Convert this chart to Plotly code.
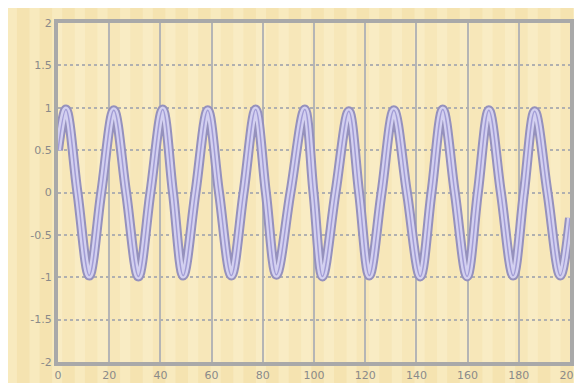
import plotly.graph_objects as go

# Values: extrema and zero crossings of the wave
x_vals = [0.0, 3.1, 7.6, 12.2, 16.9, 21.8, 26.6, 31.4, 36.1, 40.9, 44.9, 48.9, 53.7, 58.5,
          62.9, 67.7, 72.5, 77.2, 81.2, 85.3, 90.8, 96.4, 99.8, 103.3, 108.4, 113.6,
          117.6, 121.6, 126.4, 131.2, 136.3, 141.5, 145.9, 150.3, 155.0, 159.8, 164.0,
          168.3, 173.0, 177.8, 182.0, 186.2, 191.2, 196.2, 200.0]
y_vals = [0.5, 0.98, 0.0, -0.98, 0.0, 0.97, 0.0, -0.99, 0.0, 0.98, 0.0, -0.98, 0.0, 0.97,
          0.0, -0.98, 0.0, 0.98, 0.0, -0.97, 0.0, 0.98, 0.0, -0.99, 0.0, 0.96,
          0.0, -0.98, 0.0, 0.97, 0.0, -0.99, 0.0, 0.98, 0.0, -0.99, 0.0,
          0.97, 0.0, -0.98, 0.0, 0.96, 0.0, -0.98, -0.3]

x_ticks = [0, 20, 40, 60, 80, 100, 120, 140, 160, 180, 200]
y_ticks = [-2, -1.5, -1, -0.5, 0, 0.5, 1, 1.5, 2]
y_tick_text = ["-2", "-1.5", "-1", "-0.5", "0", "0.5", "1", "1.5", "2"]

fig = go.Figure()

# soft background stripes (decorative, paper coordinates)
n_stripes = 26
for i in range(n_stripes):
    sx = -0.1 + i * (1.15 / n_stripes)
    w = 1.15 / n_stripes
    fig.add_shape(type="rect", xref="paper", yref="paper",
                  x0=sx, x1=sx + w * 0.45, y0=-0.1, y1=1.1,
                  fillcolor="rgba(255,250,225,0.28)", line_width=0, layer="below")

fig.add_trace(go.Scatter(x=x_vals, y=y_vals, mode="lines",
                         line=dict(color="#9591bd", width=10, shape="spline", smoothing=1.0),
                         hoverinfo="skip", showlegend=False))
fig.add_trace(go.Scatter(x=x_vals, y=y_vals, mode="lines",
                         line=dict(color="#d3d0f0", width=6, shape="spline", smoothing=1.0),
                         showlegend=False))
fig.add_trace(go.Scatter(x=x_vals, y=y_vals, mode="lines",
                         line=dict(color="#a29dd6", width=1.5, shape="spline", smoothing=1.0),
                         hoverinfo="skip", showlegend=False))

fig.update_layout(
    width=582, height=383,
    margin=dict(l=50, r=9, t=12, b=25),
    paper_bgcolor="#f5e3b0",
    plot_bgcolor="#f7e7b9",
    font=dict(family="DejaVu Sans", size=11, color="#8a8a8a"),
    xaxis=dict(range=[0, 200], tickvals=x_ticks, showgrid=True, gridcolor="#b5b5b5",
               gridwidth=2, zeroline=False, showline=True, linecolor="#a9a9a9",
               linewidth=4, mirror=True, ticks="", ticklen=0),
    yaxis=dict(range=[-2, 2], tickvals=y_ticks, ticktext=y_tick_text, showgrid=True,
               gridcolor="#b0b0b0", gridwidth=2, griddash="dot", zeroline=False,
               showline=True, linecolor="#a9a9a9", linewidth=4, mirror=True,
               ticks="", ticklen=0),
)

fig.write_html("out.html")
